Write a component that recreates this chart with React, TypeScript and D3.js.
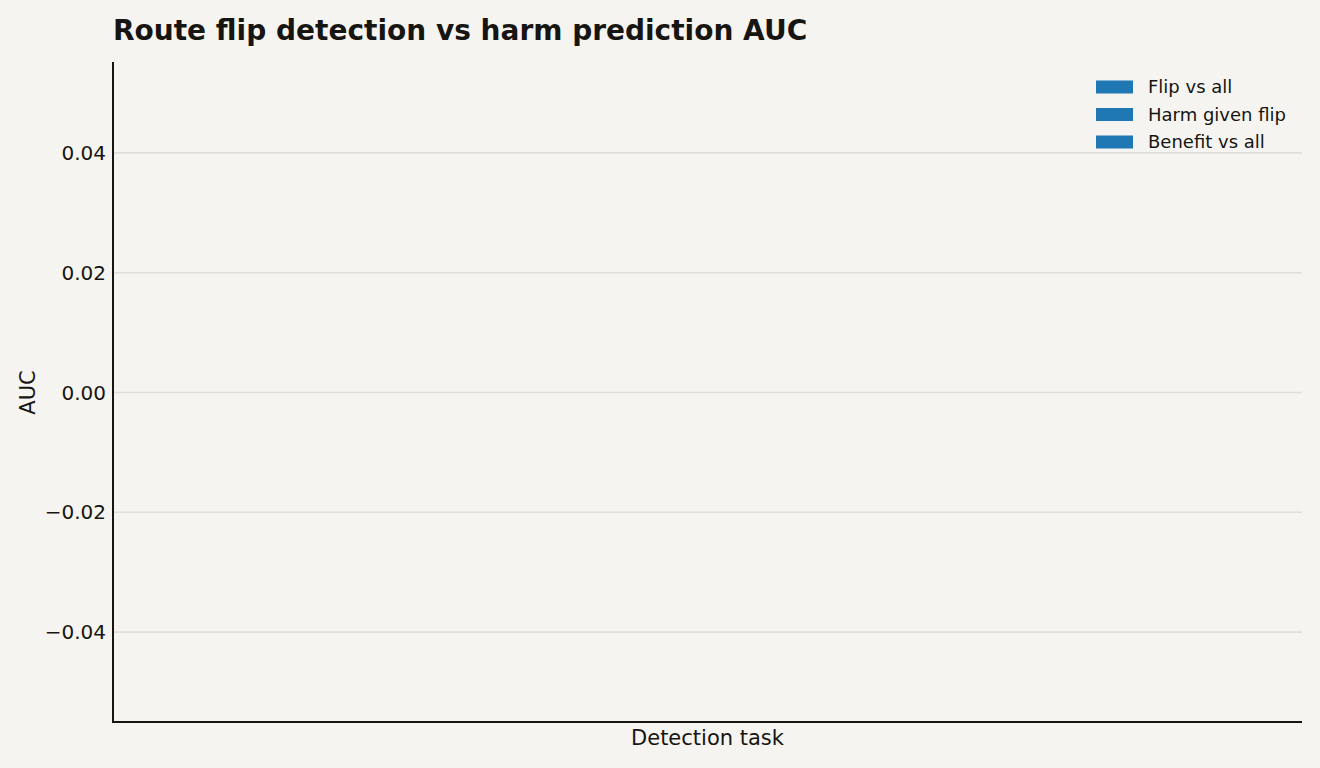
import React, { useEffect } from "react";
import * as d3 from "d3";

const categories: string[] = [];
const seriesNames = ["Flip vs all", "Harm given flip", "Benefit vs all"];
const flipVsAll: number[] = [];
const harmGivenFlip: number[] = [];
const benefitVsAll: number[] = [];
const yTicks = [-0.04, -0.02, 0.0, 0.02, 0.04];
const yDomain: [number, number] = [-0.055, 0.055];

const W = 1320;
const H = 768;
const M = { left: 113, right: 18, top: 63, bottom: 46 };
const BG = "#f5f4f0";
const INK = "#161511";
const GRID = "#dfded8";
const BLUE = "#1f77b4";
const FONT = "'DejaVu Sans', sans-serif";

export default function App() {
  useEffect(() => {
    document.body.style.margin = "0";
    document.body.style.background = BG;
    document.documentElement.style.background = BG;
  }, []);

  const innerW = W - M.left - M.right;
  const innerH = H - M.top - M.bottom;
  const y = d3.scaleLinear().domain(yDomain).range([M.top + innerH, M.top]);
  const x0 = d3.scaleBand<string>().domain(categories).range([M.left, M.left + innerW]).padding(0.2);
  const x1 = d3.scaleBand<string>().domain(seriesNames).range([0, x0.bandwidth()]).padding(0.05);
  const series = [flipVsAll, harmGivenFlip, benefitVsAll];
  const fmt = (v: number) => (v < 0 ? "\u2212" : "") + d3.format(".2f")(Math.abs(v));

  return (
    <div style={{ position: "absolute", left: 0, top: 0, width: W, height: H, background: BG }}>
      <svg width={W} height={H} style={{ display: "block", background: BG }} fontFamily={FONT}>
        <rect x={0} y={0} width={W} height={H} fill={BG} />
        {yTicks.map((t) => (
          <g key={t}>
            <line x1={M.left} x2={M.left + innerW} y1={y(t)} y2={y(t)} stroke={GRID} strokeWidth={1.6} />
            <text x={M.left - 7} y={y(t)} dy="0.35em" textAnchor="end" fontSize={20} fill={INK}>
              {fmt(t)}
            </text>
          </g>
        ))}
        {categories.map((c, i) =>
          seriesNames.map((s, j) => {
            const v = series[j][i];
            if (v === undefined) return null;
            return (
              <rect
                key={c + s}
                x={(x0(c) ?? 0) + (x1(s) ?? 0)}
                width={x1.bandwidth()}
                y={Math.min(y(v), y(0))}
                height={Math.abs(y(v) - y(0))}
                fill={BLUE}
              />
            );
          })
        )}
        <line x1={M.left} x2={M.left} y1={M.top - 1} y2={M.top + innerH} stroke={INK} strokeWidth={2} />
        <line x1={M.left - 1} x2={M.left + innerW} y1={M.top + innerH} y2={M.top + innerH} stroke={INK} strokeWidth={2} />
        <text x={M.left} y={40} fontSize={28} fontWeight="bold" fill={INK}>
          Route flip detection vs harm prediction AUC
        </text>
        <text x={M.left + innerW / 2} y={745} textAnchor="middle" fontSize={21} fill={INK}>
          Detection task
        </text>
        <text transform={`translate(35, ${M.top + innerH / 2}) rotate(-90)`} textAnchor="middle" fontSize={21} fill={INK}>
          AUC
        </text>
        {seriesNames.map((s, i) => (
          <g key={s} transform={`translate(1096, ${87 + i * 27.5})`}>
            <rect x={0} y={-6.5} width={37} height={13} fill={BLUE} />
            <text x={52} y={0} dy="0.35em" fontSize={18} fill={INK}>
              {s}
            </text>
          </g>
        ))}
      </svg>
    </div>
  );
}
